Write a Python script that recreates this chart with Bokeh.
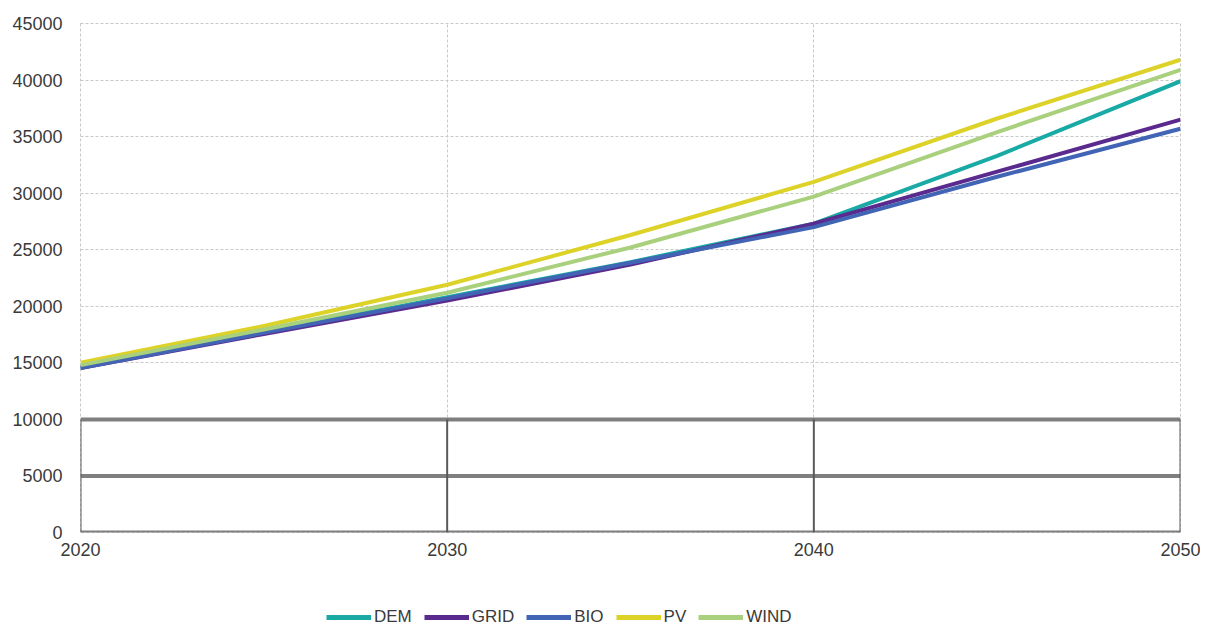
from bokeh.plotting import figure
from bokeh.layouts import column
from bokeh.models import FixedTicker, Range1d, Legend, LegendItem, NumeralTickFormatter
from bokeh.embed import file_html
from bokeh.resources import INLINE

years = [2020, 2025, 2030, 2035, 2040, 2045, 2050]
dem = [14600, 17700, 20800, 23900, 27300, 33300, 39900]
grid = [14550, 17550, 20500, 23700, 27300, 31900, 36500]
bio = [14550, 17650, 20700, 23850, 27000, 31450, 35700]
pv = [15000, 18250, 21900, 26300, 31000, 36600, 41800]
wind = [14800, 17950, 21200, 25200, 29700, 35400, 40900]

names = ["DEM", "GRID", "BIO", "PV", "WIND"]
series = [dem, grid, bio, pv, wind]
colors = ["#1aaaa5", "#5a2a8e", "#4164b4", "#dcd228", "#a9d07c"]

x_ticks = [2020, 2030, 2040, 2050]
y_ticks = [0, 5000, 10000, 15000, 20000, 25000, 30000, 35000, 40000, 45000]
low_ticks = [0, 5000, 10000]

p = figure(width=1200, height=570, output_backend="svg", toolbar_location=None,
           x_range=Range1d(2020, 2050), y_range=Range1d(0, 45000),
           min_border_left=80, min_border_right=20, min_border_top=23, min_border_bottom=38)
p.outline_line_color = "#c8c8c8"
p.outline_line_dash = "3 2"

p.xgrid.grid_line_color = "#c8c8c8"
p.xgrid.grid_line_dash = "3 2"
p.ygrid.grid_line_color = "#c8c8c8"
p.ygrid.grid_line_dash = "3 2"

# darker band in the lower region, as the reference shows it
p.segment(x0=[x_ticks[0]] * len(low_ticks), y0=low_ticks,
          x1=[x_ticks[-1]] * len(low_ticks), y1=low_ticks,
          line_color="#7f7f7f", line_width=4)
p.segment(x0=x_ticks, y0=[low_ticks[0]] * len(x_ticks),
          x1=x_ticks, y1=[low_ticks[-1]] * len(x_ticks),
          line_color="#5a5a5a", line_width=2)

for nm, s, c in zip(names, series, colors):
    p.line(years, s, line_color=c, line_width=4)

for ax in (p.xaxis[0], p.yaxis[0]):
    ax.axis_line_color = None
    ax.major_tick_line_color = None
    ax.minor_tick_line_color = None
    ax.major_label_text_font = "Liberation Sans"
    ax.major_label_text_font_size = "18px"
    ax.major_label_text_color = "#3a3a3a"

p.xaxis.ticker = FixedTicker(ticks=x_ticks)
p.yaxis.ticker = FixedTicker(ticks=y_ticks)
p.yaxis.formatter = NumeralTickFormatter(format="0")
p.yaxis.major_label_standoff = 12
p.xaxis.major_label_standoff = 4

# legend strip: same series drawn out of view, only the legend shows
lg = figure(width=1200, height=58, output_backend="svg", toolbar_location=None,
            x_range=Range1d(0, 1), y_range=Range1d(0, 1),
            min_border_left=0, min_border_right=0, min_border_top=0, min_border_bottom=0)
lg.axis.visible = False
lg.grid.visible = False
lg.outline_line_color = None
items = []
for nm, s, c in zip(names, series, colors):
    r = lg.line(years, s, line_color=c, line_width=5)
    items.append(LegendItem(label=nm, renderers=[r]))

legend = Legend(items=items, orientation="horizontal", location=(246, 1),
                label_text_font="Liberation Sans", label_text_font_size="17px",
                label_text_color="#3a3a3a", glyph_width=45, glyph_height=20,
                spacing=12, label_standoff=3, border_line_color=None,
                background_fill_alpha=0, padding=0, margin=0)
lg.add_layout(legend, "center")

open("out.html", "w").write(file_html(column(p, lg, spacing=0), INLINE))
